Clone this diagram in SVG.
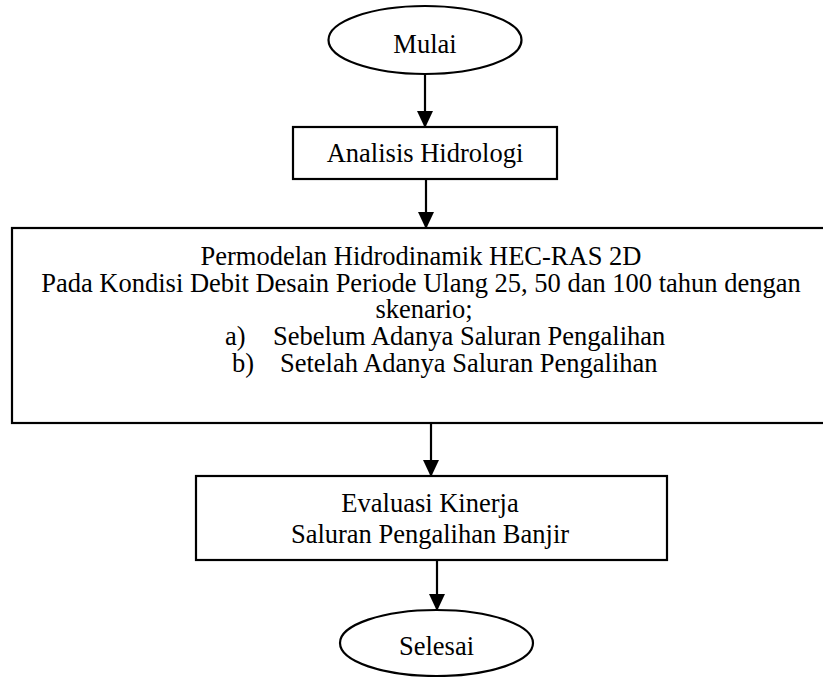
<svg xmlns="http://www.w3.org/2000/svg" width="823" height="677" viewBox="0 0 823 677">
<defs>
<marker id="arr" markerWidth="16" markerHeight="18" refX="15" refY="8" orient="auto" markerUnits="userSpaceOnUse" viewBox="0 0 16 18">
<path d="M0,0 L17,8 L0,16 Z" fill="#000"/>
</marker>
</defs>
<style>
.shape{fill:#fff;stroke:#000;stroke-width:2.2}
.t{font-family:"Liberation Serif","Times New Roman",serif;font-size:26.5px;fill:#000}
.c{text-anchor:middle}
.conn{stroke:#000;stroke-width:2.2;fill:none}
</style>
<rect width="823" height="677" fill="#fff"/>
<g id="mulai">
<ellipse class="shape" cx="425" cy="40" rx="96.5" ry="34"/>
<text class="t c" x="425" y="53">Mulai</text>
</g>
<g id="analisis">
<rect class="shape" x="293" y="127" width="264" height="52"/>
<text class="t c" x="425" y="162">Analisis Hidrologi</text>
</g>
<g id="permodelan">
<rect class="shape" x="12" y="228" width="830" height="195"/>
<text class="t c" x="421" y="265">Permodelan Hidrodinamik HEC-RAS 2D</text>
<text class="t c" x="421" y="292">Pada Kondisi Debit Desain Periode Ulang 25, 50 dan 100 tahun dengan</text>
<text class="t c" x="424" y="318">skenario;</text>
<text class="t" x="225" y="345">a)</text>
<text class="t" x="273" y="345">Sebelum Adanya Saluran Pengalihan</text>
<text class="t" x="232" y="372">b)</text>
<text class="t" x="280" y="372">Setelah Adanya Saluran Pengalihan</text>
</g>
<g id="evaluasi">
<rect class="shape" x="196" y="476" width="471" height="84"/>
<text class="t c" x="430" y="512">Evaluasi Kinerja</text>
<text class="t c" x="430" y="543">Saluran Pengalihan Banjir</text>
</g>
<g id="selesai">
<ellipse class="shape" cx="436.5" cy="643" rx="96.5" ry="33"/>
<text class="t c" x="436.5" y="655">Selesai</text>
</g>
<g id="connectors">
<line class="conn" x1="425" y1="74" x2="425" y2="126" marker-end="url(#arr)"/>
<line class="conn" x1="426" y1="179" x2="426" y2="227" marker-end="url(#arr)"/>
<line class="conn" x1="431" y1="423" x2="431" y2="475" marker-end="url(#arr)"/>
<line class="conn" x1="437" y1="560" x2="437" y2="609" marker-end="url(#arr)"/>
</g>
</svg>
